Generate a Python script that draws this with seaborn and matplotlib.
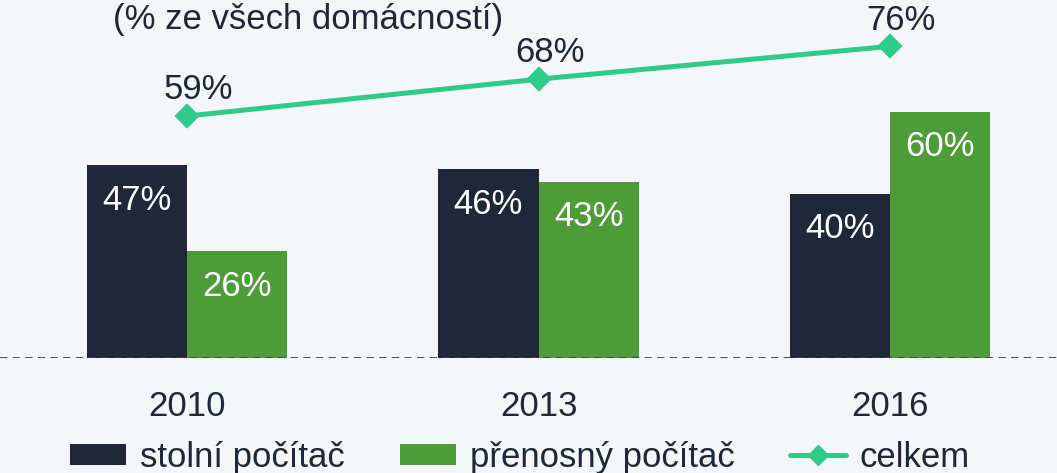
import numpy as np
import matplotlib.pyplot as plt
import seaborn as sns
import pandas as pd
from matplotlib.patches import Patch
from matplotlib.lines import Line2D

# data
years = ["2010", "2013", "2016"]
stolni = [47, 46, 40]
prenosny = [26, 43, 60]
celkem = [59, 68, 76]
series_names = ["stolní počítač", "přenosný počítač"]
total_name = "celkem"
title = "(% ze všech domácností)"

# colours
bg = "#f5f6fa"
dark = "#1e2838"
green = "#4e9c38"
teal = "#2ecb8b"
fs = 25

sns.set_style("white")
plt.rcParams["font.family"] = ["Liberation Sans", "DejaVu Sans"]
plt.rcParams["text.color"] = dark

bars = pd.DataFrame({
    "rok": years * 2,
    "typ": [series_names[0]] * len(years) + [series_names[1]] * len(years),
    "podil": stolni + prenosny,
})

fig = plt.figure(figsize=(10.57, 4.73), dpi=100, facecolor=bg)
ax = fig.add_axes([0, 115 / 473, 1, 358 / 473])
ax.set_facecolor(bg)

sns.barplot(data=bars, x="rok", y="podil", hue="typ", order=years,
            hue_order=series_names, palette=[dark, green], width=0.57,
            saturation=1, edgecolor="none", linewidth=0, ax=ax, legend=False)

for cont in ax.containers:
    ax.bar_label(cont, labels=[f"{v:.0f}%" for v in cont.datavalues],
                 padding=-37, color="white", fontsize=fs)

sns.pointplot(x=years, y=celkem, order=years, color=teal, marker="D",
              markersize=10, linewidth=3.6, errorbar=None, ax=ax)

for i, v in enumerate(celkem):
    ax.annotate(f"{v}%", (i, v), xytext=(8, 7), textcoords="offset points",
                ha="center", va="bottom", fontsize=fs, color=dark)

ax.axhline(0, color="#3a4050", lw=1.3, ls=(0, (4, 3)), zorder=5)

ax.set_xlim(-0.532, 2.475)
ax.set_ylim(0, 87.3)
ax.set_xlabel("")
ax.set_ylabel("")
ax.set_yticks([])
ax.tick_params(axis="x", length=0, pad=23, labelsize=fs, labelcolor=dark)
sns.despine(ax=ax, left=True, bottom=True)

fig.text(113 / 1057, 1 - 20 / 473, title, fontsize=fs, color=dark,
         ha="left", va="center")

handles = [
    Patch(facecolor=dark, edgecolor="none"),
    Patch(facecolor=green, edgecolor="none"),
    Line2D([], [], color=teal, lw=3.6, marker="D", markersize=10),
]
fig.legend(handles, series_names + [total_name], loc="center",
           bbox_to_anchor=(520 / 1057, 1 - 457 / 473), ncol=3, frameon=False,
           fontsize=fs, handlelength=1.6, handleheight=0.55,
           handletextpad=0.4, columnspacing=1.6, borderpad=0)

fig.savefig("out.png", dpi=100, facecolor=bg)
